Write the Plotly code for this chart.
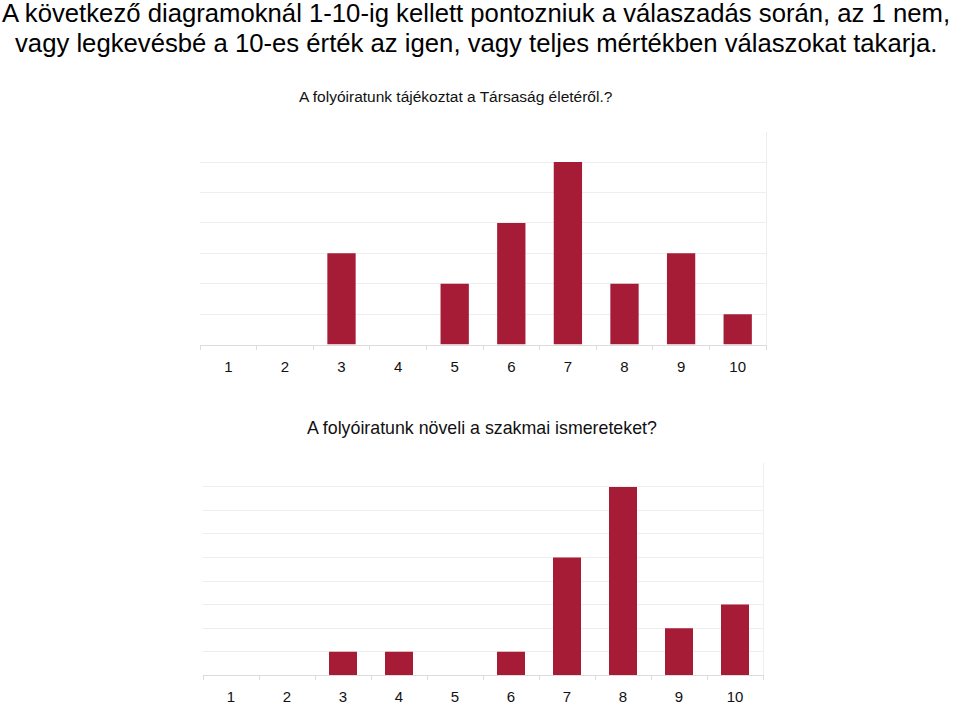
import plotly.graph_objects as go

categories = [1, 2, 3, 4, 5, 6, 7, 8, 9, 10]
tick_labels = ["1", "2", "3", "4", "5", "6", "7", "8", "9", "10"]
values_1 = [0, 0, 3, 0, 2, 4, 6, 2, 3, 1]
values_2 = [0, 0, 1, 1, 0, 1, 5, 8, 2, 3]

title_line1 = "A következő diagramoknál 1-10-ig kellett pontozniuk a válaszadás során, az 1 nem,"
title_line2 = "vagy legkevésbé a 10-es érték az igen, vagy teljes mértékben válaszokat takarja."
sub_1 = "A folyóiratunk tájékoztat a Társaság életéről.?"
sub_2 = "A folyóiratunk növeli a szakmai ismereteket?"

W, H = 960, 705
BAR = "#a61b35"
GRID = "#eeeeee"
FONT = "Liberation Sans, Arial, sans-serif"

fig = go.Figure()
fig.add_trace(go.Bar(x=categories, y=values_1, marker_color=BAR, marker_line_width=0,
                     width=0.5, xaxis="x", yaxis="y", showlegend=False))
fig.add_trace(go.Bar(x=categories, y=values_2, marker_color=BAR, marker_line_width=0,
                     width=0.5, xaxis="x2", yaxis="y2", showlegend=False))

def xax(domain, anchor):
    return dict(domain=domain, anchor=anchor, range=[0.5, 10.5],
                tickmode="array", tickvals=categories, ticktext=tick_labels,
                ticks="outside", ticklen=8, tickcolor="rgba(0,0,0,0)",
                showgrid=False, zeroline=False, showline=True, linecolor="#dcdcdc",
                tickfont=dict(size=15, color="#111"),
                minor=dict(ticks="outside", tick0=0.5, dtick=1, ticklen=4,
                           tickcolor="#dcdcdc", showgrid=False))

def yax(domain, anchor, top):
    return dict(domain=domain, anchor=anchor, range=[0, top], dtick=1,
                showgrid=True, gridcolor=GRID, showticklabels=False,
                zeroline=False, side="right", showline=True, linecolor=GRID,
                ticks="")

fig.update_layout(
    width=W, height=H,
    margin=dict(l=0, r=0, t=0, b=0),
    plot_bgcolor="white", paper_bgcolor="white",
    font=dict(family=FONT),
    bargap=0.5,
    xaxis=xax([200 / W, 766 / W], "y"),
    yaxis=yax([1 - 348 / H, 1 - 133 / H], "x", 7),
    xaxis2=xax([203 / W, 763 / W], "y2"),
    yaxis2=yax([1 - 682 / H, 1 - 468 / H], "x2", 9),
)

ann = [
    dict(text=title_line1, x=0 / W, y=1 - 13 / H, font=dict(size=25.7, color="#000"),
         xanchor="left"),
    dict(text=title_line2, x=13 / W, y=1 - 43 / H, font=dict(size=25.7, color="#000"),
         xanchor="left"),
    dict(text=sub_1, x=456 / W, y=1 - 97 / H, font=dict(size=15.5, color="#111"),
         xanchor="center"),
    dict(text=sub_2, x=482 / W, y=1 - 432 / H, font=dict(size=17.8, color="#111"),
         xanchor="center"),
]
for a in ann:
    fig.add_annotation(xref="paper", yref="paper", showarrow=False, yanchor="middle", **a)

fig.write_html("out.html", config={"displayModeBar": False},
               post_script="document.body.style.margin='0';document.body.style.overflow='hidden';")
